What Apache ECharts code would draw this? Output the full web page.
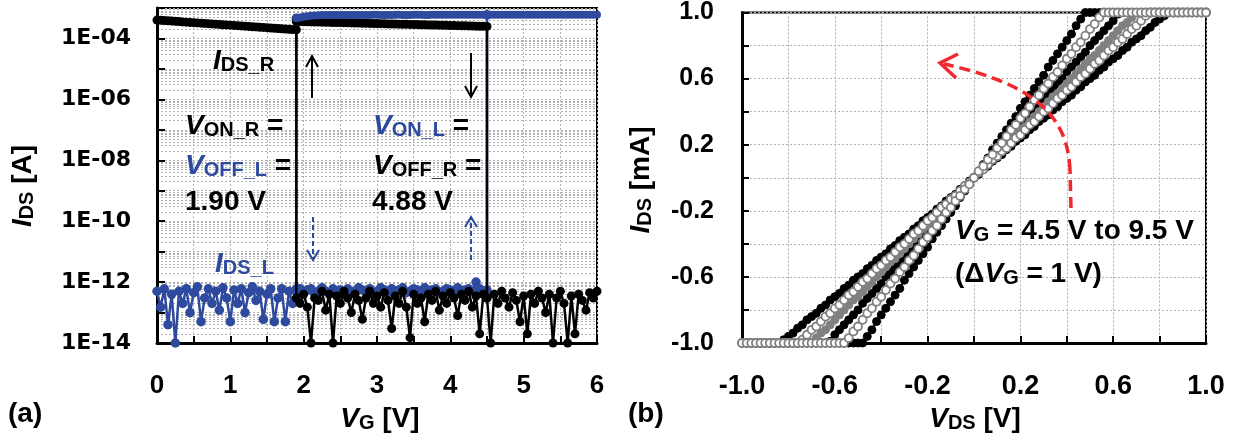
<!DOCTYPE html>
<html><head><meta charset="utf-8">
<script src="https://cdn.jsdelivr.net/npm/echarts@6/dist/echarts.min.js"></script>
<style>html,body{margin:0;padding:0;background:#fff}#c{width:1237px;height:440px}</style>
</head><body><div id="c"></div>
<script>
// ---------- Panel (a): IDS [A] vs VG [V] ----------
const vg = [0,0.05,0.1,0.15,0.2,0.25,0.3,0.35,0.4,0.45,
0.5,0.55,0.6,0.65,0.7,0.75,0.8,0.85,0.9,0.95,
1,1.05,1.1,1.15,1.2,1.25,1.3,1.35,1.4,1.45,
1.5,1.55,1.6,1.65,1.7,1.75,1.8,1.85,1.9,1.95,
2,2.05,2.1,2.15,2.2,2.25,2.3,2.35,2.4,2.45,
2.5,2.55,2.6,2.65,2.7,2.75,2.8,2.85,2.9,2.95,
3,3.05,3.1,3.15,3.2,3.25,3.3,3.35,3.4,3.45,
3.5,3.55,3.6,3.65,3.7,3.75,3.8,3.85,3.9,3.95,
4,4.05,4.1,4.15,4.2,4.25,4.3,4.35,4.4,4.45,
4.5,4.55,4.6,4.65,4.7,4.75,4.8,4.85,4.9,4.95,
5,5.05,5.1,5.15,5.2,5.25,5.3,5.35,5.4,5.45,
5.5,5.55,5.6,5.65,5.7,5.75,5.8,5.85,5.9,5.95,6];

// IDS_L (blue), off-state noise, VG 0 .. 1.90
const blueNoiseA = [5e-13,1.5e-13,6e-13,4e-14,4e-13,1e-14,5e-13,2e-13,6e-13,1e-13,
4.5e-13,7e-13,5e-14,3e-13,6e-13,2e-13,5e-13,1.2e-13,6.5e-13,3e-13,
5e-14,5.5e-13,2e-13,6e-13,1e-13,4.5e-13,7e-13,2.5e-13,5e-13,6e-14,
4e-13,6e-13,5e-14,3e-13,6e-13,5e-14,5e-13,2e-13,6e-13];
// IDS_L (blue), off-state, return sweep VG 1.90 .. 4.50
const blueNoiseB = [5e-13,6e-13,4.5e-13,5.5e-13,6e-13,4e-13,5e-13,6.5e-13,5e-13,4.5e-13,
6e-13,5e-13,5.5e-13,4e-13,6e-13,5e-13,4.5e-13,6.5e-13,5.5e-13,5e-13,
6e-13,4e-13,5e-13,6.5e-13,5.5e-13,4.5e-13,6e-13,5e-13,5.5e-13,6.5e-13,
4.5e-13,5e-13,6e-13,5.5e-13,4e-13,6.5e-13,5e-13,5.5e-13,6e-13,4.5e-13,
5e-13,6e-13,5.5e-13,5e-13,6.5e-13,4.5e-13,5.5e-13,6e-13,5e-13,1e-12,
6e-13,5e-13,5.5e-13];
// IDS_L (blue), on-state, VG 1.90 .. 6
const blueHigh = [4.6e-4,4.9e-4,5.2e-4,5.4e-4,5.6e-4,5.7e-4,5.8e-4,5.85e-4,5.9e-4,5.9e-4,
5.9e-4,5.9e-4,5.92e-4,5.92e-4,5.9e-4,5.9e-4,5.93e-4,5.93e-4,5.9e-4,5.9e-4,
5.92e-4,5.95e-4,5.95e-4,5.92e-4,5.9e-4,5.9e-4,5.93e-4,5.95e-4,5.95e-4,5.93e-4,
5.92e-4,5.92e-4,5.95e-4,5.96e-4,5.95e-4,5.93e-4,5.93e-4,5.95e-4,5.97e-4,5.96e-4,
5.95e-4,5.95e-4,5.96e-4,5.97e-4,5.97e-4,5.96e-4,5.95e-4,5.96e-4,5.98e-4,5.98e-4,
5.97e-4,5.96e-4,5.97e-4,5.98e-4,6e-4,5.99e-4,5.98e-4,5.98e-4,6e-4,6e-4,
5.99e-4,5.98e-4,6e-4,6.01e-4,6.01e-4,6e-4,6e-4,6.01e-4,6.02e-4,6.01e-4,
6e-4,6.01e-4,6.02e-4,6.02e-4,6.01e-4,6.01e-4,6.02e-4,6.03e-4,6.02e-4,6.02e-4,
6.03e-4,6.03e-4,6.02e-4];
// IDS_R (black), on-state, VG 0 .. 1.90
const blackHighA = [4.0e-4,3.93e-4,3.85e-4,3.78e-4,3.71e-4,3.64e-4,3.57e-4,3.5e-4,3.43e-4,3.37e-4,
3.3e-4,3.24e-4,3.18e-4,3.12e-4,3.06e-4,3e-4,2.94e-4,2.89e-4,2.83e-4,2.78e-4,
2.73e-4,2.68e-4,2.63e-4,2.58e-4,2.53e-4,2.48e-4,2.43e-4,2.39e-4,2.34e-4,2.3e-4,
2.26e-4,2.21e-4,2.17e-4,2.13e-4,2.09e-4,2.05e-4,2.01e-4,1.97e-4,1.93e-4];
// IDS_R (black), on-state, return sweep VG 1.90 .. 4.50
const blackHighB = [3.6e-4,3.57e-4,3.55e-4,3.52e-4,3.5e-4,3.47e-4,3.45e-4,3.43e-4,3.4e-4,3.38e-4,
3.35e-4,3.33e-4,3.31e-4,3.28e-4,3.26e-4,3.24e-4,3.21e-4,3.19e-4,3.17e-4,3.15e-4,
3.12e-4,3.1e-4,3.08e-4,3.06e-4,3.04e-4,3.01e-4,2.99e-4,2.97e-4,2.95e-4,2.93e-4,
2.91e-4,2.89e-4,2.87e-4,2.85e-4,2.83e-4,2.81e-4,2.79e-4,2.77e-4,2.75e-4,2.73e-4,
2.71e-4,2.69e-4,2.67e-4,2.65e-4,2.63e-4,2.62e-4,2.6e-4,2.58e-4,2.56e-4,2.54e-4,
2.52e-4,2.51e-4,2.49e-4];
// IDS_R (black), off-state noise, VG 1.90 .. 6
const blackNoise = [3e-13,2e-13,4e-13,1.5e-13,1e-14,3e-13,2.5e-13,5e-13,1.2e-13,4e-13,
1e-14,3.5e-13,2e-13,5e-13,3e-13,1e-13,4e-13,2.5e-13,6e-14,3e-13,
5e-13,2e-13,3.5e-13,1.5e-13,4.5e-13,2.5e-13,3e-14,3.5e-13,2e-13,5e-13,
1.5e-13,1.5e-14,4e-13,2e-13,3e-13,5e-14,4e-13,2.5e-13,5e-13,1.2e-13,
3.5e-13,2e-13,4.5e-13,3e-13,8e-14,4e-13,2.5e-13,5e-13,1.5e-13,3.5e-13,
2e-14,4e-13,3e-13,1e-14,4e-13,2e-13,5e-13,3e-13,1.5e-13,4.5e-13,
2.5e-13,5e-14,3.5e-13,2e-14,4e-13,2e-13,5e-13,3e-13,1e-13,4e-13,
1e-14,3e-13,5e-13,2e-13,1e-14,3.5e-13,2e-14,4e-13,2.5e-13,1.2e-13,
4.5e-13,3e-13,5e-13];
const yLabelsA = ['1E-14','1E-12','1E-10','1E-08','1E-06','1E-04'];

// ---------- Panel (b): IDS [mA] vs VDS [V] ----------
const vds = [-1,-0.98,-0.96,-0.94,-0.92,-0.9,-0.88,-0.86,-0.84,-0.82,
-0.8,-0.78,-0.76,-0.74,-0.72,-0.7,-0.68,-0.66,-0.64,-0.62,
-0.6,-0.58,-0.56,-0.54,-0.52,-0.5,-0.48,-0.46,-0.44,-0.42,
-0.4,-0.38,-0.36,-0.34,-0.32,-0.3,-0.28,-0.26,-0.24,-0.22,
-0.2,-0.18,-0.16,-0.14,-0.12,-0.1,-0.08,-0.06,-0.04,-0.02,
0,0.02,0.04,0.06,0.08,0.1,0.12,0.14,0.16,0.18,
0.2,0.22,0.24,0.26,0.28,0.3,0.32,0.34,0.36,0.38,
0.4,0.42,0.44,0.46,0.48,0.5,0.52,0.54,0.56,0.58,
0.6,0.62,0.64,0.66,0.68,0.7,0.72,0.74,0.76,0.78,
0.8,0.82,0.84,0.86,0.88,0.9,0.92,0.94,0.96,0.98,1];
const idsVG45 = [-1,-1,-1,-1,-1, -1,-1,-1,-1,
-0.98,-0.96,-0.94,-0.91,-0.89,-0.86,-0.84,-0.82,-0.79,-0.77,-0.74,-0.72,-0.7,-0.67,-0.65,-0.62,-0.6,-0.58,-0.55,-0.53,-0.5,-0.48,-0.46,-0.43,-0.41,-0.38,-0.36,-0.34,-0.31,-0.29,-0.26,-0.24,-0.22,-0.19,-0.17,-0.14,-0.12,-0.1,-0.07,-0.05,-0.02,
0,
0.02,0.05,0.07,0.1,0.12,0.14,0.17,0.19,0.22,0.24,0.26,0.29,0.31,0.34,0.36,0.38,0.41,0.43,0.46,0.48,0.5,0.53,0.55,0.58,0.6,0.62,0.65,0.67,0.7,0.72,0.74,0.77,0.79,0.82,0.84,0.86,0.89,0.91,0.94,0.96,0.98,
1,1,1,1,1, 1,1,1,1];
const idsVG55 = [-1,-1,-1,-1,-1, -1,-1,-1,-1,-1, -1,-1,-1,
-0.98,-0.95,-0.92,-0.9,-0.87,-0.84,-0.82,-0.79,-0.77,-0.74,-0.71,-0.69,-0.66,-0.63,-0.61,-0.58,-0.55,-0.53,-0.5,-0.48,-0.45,-0.42,-0.4,-0.37,-0.34,-0.32,-0.29,-0.26,-0.24,-0.21,-0.18,-0.16,-0.13,-0.11,-0.08,-0.05,-0.03,
0,
0.03,0.05,0.08,0.11,0.13,0.16,0.18,0.21,0.24,0.26,0.29,0.32,0.34,0.37,0.4,0.42,0.45,0.48,0.5,0.53,0.55,0.58,0.61,0.63,0.66,0.69,0.71,0.74,0.77,0.79,0.82,0.84,0.87,0.9,0.92,0.95,0.98,
1,1,1,1,1, 1,1,1,1,1, 1,1,1];
const idsVG65 = [-1,-1,-1,-1,-1, -1,-1,-1,-1,-1, -1,-1,-1,-1,-1, -1,
-0.97,-0.94,-0.92,-0.89,-0.86,-0.83,-0.8,-0.77,-0.74,-0.72,-0.69,-0.66,-0.63,-0.6,-0.57,-0.54,-0.51,-0.49,-0.46,-0.43,-0.4,-0.37,-0.34,-0.31,-0.29,-0.26,-0.23,-0.2,-0.17,-0.14,-0.11,-0.09,-0.06,-0.03,
0,
0.03,0.06,0.09,0.11,0.14,0.17,0.2,0.23,0.26,0.29,0.31,0.34,0.37,0.4,0.43,0.46,0.49,0.51,0.54,0.57,0.6,0.63,0.66,0.69,0.72,0.74,0.77,0.8,0.83,0.86,0.89,0.92,0.94,0.97,
1,1,1,1,1, 1,1,1,1,1, 1,1,1,1,1, 1];
const idsVG75 = [-1,-1,-1,-1,-1, -1,-1,-1,-1,-1, -1,-1,-1,-1,-1, -1,-1,-1,-1,
-0.99,-0.95,-0.92,-0.89,-0.86,-0.83,-0.8,-0.76,-0.73,-0.7,-0.67,-0.64,-0.6,-0.57,-0.54,-0.51,-0.48,-0.45,-0.41,-0.38,-0.35,-0.32,-0.29,-0.25,-0.22,-0.19,-0.16,-0.13,-0.1,-0.06,-0.03,
0,
0.03,0.06,0.1,0.13,0.16,0.19,0.22,0.25,0.29,0.32,0.35,0.38,0.41,0.45,0.48,0.51,0.54,0.57,0.6,0.64,0.67,0.7,0.73,0.76,0.8,0.83,0.86,0.89,0.92,0.95,0.99,
1,1,1,1,1, 1,1,1,1,1, 1,1,1,1,1, 1,1,1,1];
const idsVG85 = [-1,-1,-1,-1,-1, -1,-1,-1,-1,-1, -1,-1,-1,-1,-1, -1,-1,-1,-1,-1, -1,-1,-1,
-0.97,-0.93,-0.9,-0.86,-0.82,-0.79,-0.75,-0.72,-0.68,-0.64,-0.61,-0.57,-0.54,-0.5,-0.47,-0.43,-0.39,-0.36,-0.32,-0.29,-0.25,-0.21,-0.18,-0.14,-0.11,-0.07,-0.04,
0,
0.04,0.07,0.11,0.14,0.18,0.21,0.25,0.29,0.32,0.36,0.39,0.43,0.47,0.5,0.54,0.57,0.61,0.64,0.68,0.72,0.75,0.79,0.82,0.86,0.9,0.93,0.97,
1,1,1,1,1, 1,1,1,1,1, 1,1,1,1,1, 1,1,1,1,1, 1,1,1];
const idsVG95 = [-1,-1,-1,-1,-1, -1,-1,-1,-1,-1, -1,-1,-1,-1,-1, -1,-1,-1,-1,-1, -1,-1,-1,-1,-1, -1,-1,
-0.96,-0.92,-0.87,-0.83,-0.79,-0.75,-0.71,-0.67,-0.62,-0.58,-0.54,-0.5,-0.46,-0.42,-0.37,-0.33,-0.29,-0.25,-0.21,-0.17,-0.12,-0.08,-0.04,
0,
0.04,0.08,0.12,0.17,0.21,0.25,0.29,0.33,0.37,0.42,0.46,0.5,0.54,0.58,0.62,0.67,0.71,0.75,0.79,0.83,0.87,0.92,0.96,
1,1,1,1,1, 1,1,1,1,1, 1,1,1,1,1, 1,1,1,1,1, 1,1,1,1,1, 1,1];
const xLabelsB = ['-1.0','-0.6','-0.2','0.2','0.6','1.0'];

// ---------- build ----------
const F = '"Liberation Sans", Arial, Helvetica, sans-serif';
const BLUE = '#2e4a9e', BLACK = '#000000', GRAY = '#808080', RED = '#f0282d';
const GRIDC = '#b2b2b2';
const iOn = vg.indexOf(1.9), iOff = vg.indexOf(4.5);
const lg = v => Math.log10(v);   // decade axis for panel (a)
const pts = (xs, ys) => ys.map((y, i) => [xs[i], y]);
const ptsLog = (xs, ys) => ys.map((y, i) => [xs[i], lg(y)]);
const vgHi = vg.slice(iOn);             // 1.90 .. 6
const vgMid = vg.slice(iOn, iOff + 1);  // 1.90 .. 4.50
const vgLo = vg.slice(0, iOn + 1);      // 0 .. 1.90

const blackA = ptsLog(vgLo, blackHighA).concat(ptsLog(vgHi, blackNoise));
const blackB = ptsLog(vgMid, blackHighB).concat([[vg[iOff], lg(blackNoise[iOff - iOn])]]);
const blueA = ptsLog(vgLo, blueNoiseA).concat([[vg[iOn], lg(blueHigh[0])]]);
const blueB = ptsLog(vgMid, blueNoiseB).concat([[vg[iOff], lg(blueHigh[iOff - iOn])]]);
const blueH = ptsLog(vgHi, blueHigh);

// minor log grid lines at 2..9 x 10^n (axis decoration)
const logGrid = [];
for (let e = -14; e <= -4; e++) for (let k = 2; k <= 9; k++) logGrid.push({yAxis: lg(k) + e});

// each curve = connecting line + filled circle markers
const curve = (name, data, ax, fill, stroke, lw, bw, z, size) => [
  {name, type: 'line', xAxisIndex: ax, yAxisIndex: ax, data, z, symbol: 'none', showSymbol: false,
   lineStyle: {color: stroke, width: lw}, emphasis: {disabled: true}, animation: false, clip: false, silent: true},
  {name: name + ' pts', type: 'scatter', xAxisIndex: ax, yAxisIndex: ax, data, z,
   symbol: 'circle', symbolSize: size,
   itemStyle: {color: fill, borderColor: stroke, borderWidth: bw, opacity: 1},
   emphasis: {disabled: true}, animation: false, clip: false, silent: true, large: false}
];

const axisLineStyle = {show: true, onZero: false, lineStyle: {color: '#000', width: 3}};
const gridLine = {show: true, lineStyle: {color: GRIDC, type: [2, 2], width: 1}};

const rich = {
  vk: {fontFamily: F, fontSize: 28, fontWeight: 'bold', fontStyle: 'italic', lineHeight: 30, verticalAlign: 'bottom', fill: BLACK},
  sk: {fontFamily: F, fontSize: 20, fontWeight: 'bold', lineHeight: 9, verticalAlign: 'bottom', fill: BLACK},
  tk: {fontFamily: F, fontSize: 28, fontWeight: 'bold', lineHeight: 30, verticalAlign: 'bottom', fill: BLACK},
  vb: {fontFamily: F, fontSize: 28, fontWeight: 'bold', fontStyle: 'italic', lineHeight: 30, verticalAlign: 'bottom', fill: BLUE},
  sb: {fontFamily: F, fontSize: 20, fontWeight: 'bold', lineHeight: 9, verticalAlign: 'bottom', fill: BLUE}
};
const T = (x, y, text) => ({
  type: 'text', x, y, z: 100, silent: true,
  style: {text, rich, align: 'left', verticalAlign: 'top', font: 'bold 28px ' + F, fill: '#000'}
});
const TC = (x, y, text, rot) => ({
  type: 'text', x, y, z: 100, silent: true, rotation: rot || 0,
  style: {text, rich, align: 'center', verticalAlign: 'middle', font: 'bold 28px ' + F, fill: '#000'}
});
const L = (pts2, color, dash, w) => ({
  type: 'polyline', z: 100, silent: true, shape: {points: pts2},
  style: {stroke: color, lineWidth: w || 2, fill: null, lineDash: dash || null}
});
const fmtB = v => { const s = v.toFixed(1) === '-0.0' ? '0.0' : v.toFixed(1); return xLabelsB.indexOf(s) >= 0 ? s : ''; };

const series = [
  {name: 'loggrid', type: 'line', xAxisIndex: 0, yAxisIndex: 0, data: [[0, -3]], symbol: 'none', showSymbol: false,
   lineStyle: {opacity: 0}, z: 0, silent: true, animation: false,
   markLine: {silent: true, z: 0, zlevel: 0, symbol: ['none', 'none'], label: {show: false}, animation: false,
     emphasis: {disabled: true},
     lineStyle: {color: GRIDC, type: [2, 2], width: 1}, data: logGrid}}
].concat(
  curve('IDS_L return', blueB, 0, BLUE, BLUE, 2.5, 0, 3, 9.5),
  curve('IDS_L', blueA, 0, BLUE, BLUE, 2.5, 0, 3, 9.5),
  curve('IDS_R return', blackB, 0, BLACK, BLACK, 2.5, 0, 4, 9),
  curve('IDS_R', blackA, 0, BLACK, BLACK, 2.5, 0, 4, 9),
  curve('IDS_L on', blueH, 0, BLUE, BLUE, 2.5, 0, 6, 8),
  curve('VG 4.5 V', pts(vds, idsVG45), 1, BLACK, BLACK, 2, 1, 3, 8),
  curve('VG 7.5 V', pts(vds, idsVG75), 1, BLACK, BLACK, 2, 1, 3, 8),
  curve('VG 9.5 V', pts(vds, idsVG95), 1, BLACK, BLACK, 2, 1, 3, 8),
  curve('VG 6.5 V', pts(vds, idsVG65), 1, GRAY, GRAY, 2, 1, 4, 8),
  curve('VG 5.5 V', pts(vds, idsVG55), 1, '#ffffff', GRAY, 2, 1.8, 5, 8),
  curve('VG 8.5 V', pts(vds, idsVG85), 1, '#ffffff', GRAY, 2, 1.8, 6, 8)
);

const option = {
  backgroundColor: '#fff',
  animation: false,
  grid: [
    {left: 157, right: 640, top: 8, bottom: 97, show: true, borderColor: '#000', borderWidth: 2, backgroundColor: 'transparent', containLabel: false},
    {left: 742, right: 31, top: 9, bottom: 97, show: true, borderColor: '#000', borderWidth: 2, backgroundColor: 'transparent', containLabel: false}
  ],
  xAxis: [
    {type: 'value', gridIndex: 0, min: 0, max: 6, interval: 0.5,
     axisLine: axisLineStyle,
     axisTick: {show: true, inside: true, length: 7, lineStyle: {color: '#000', width: 2}},
     axisLabel: {show: true, margin: 30, color: '#000', fontFamily: F, fontWeight: 'bold', fontSize: 26, hideOverlap: false, showMinLabel: true, showMaxLabel: true,
       formatter: v => (Math.abs(v - Math.round(v)) < 1e-9 ? String(Math.round(v)) : '')},
     splitLine: gridLine},
    {type: 'value', gridIndex: 1, min: -1, max: 1, interval: 0.2,
     axisLine: axisLineStyle,
     axisTick: {show: true, inside: true, length: 7, lineStyle: {color: '#000', width: 2}},
     axisLabel: {show: true, margin: 30, color: '#000', fontFamily: F, fontWeight: 'bold', fontSize: 27, hideOverlap: false, showMinLabel: true, showMaxLabel: true, formatter: fmtB},
     splitLine: gridLine}
  ],
  yAxis: [
    {type: 'value', gridIndex: 0, min: -14, max: -3, interval: 1,
     axisLine: axisLineStyle,
     axisTick: {show: true, inside: true, length: 8, lineStyle: {color: '#000', width: 2}},
     axisLabel: {show: true, margin: 26, color: '#000', fontFamily: '"DejaVu Sans", sans-serif', fontWeight: 'bold', fontSize: 22, hideOverlap: false, showMinLabel: true, showMaxLabel: true,
       formatter: v => { const s = '1E-' + String(-Math.round(v)).padStart(2, '0'); return yLabelsA.indexOf(s) >= 0 ? s : ''; }},
     splitLine: gridLine},
    {type: 'value', gridIndex: 1, min: -1, max: 1, interval: 0.2,
     axisLine: axisLineStyle,
     axisTick: {show: true, inside: true, length: 7, lineStyle: {color: '#000', width: 2}},
     axisLabel: {show: true, margin: 28, color: '#000', fontFamily: F, fontWeight: 'bold', fontSize: 25, hideOverlap: false, showMinLabel: true, showMaxLabel: true, formatter: fmtB},
     splitLine: gridLine}
  ],
  series,
  graphic: [
    T(213, 45, '{vk|I}{sk|DS_R}'),
    T(185, 110, '{vk|V}{sk|ON_R}{tk| =}'),
    T(185, 150, '{vb|V}{sb|OFF_L}{tk| =}'),
    T(185, 186, '{tk|1.90 V}'),
    T(373, 110, '{vb|V}{sb|ON_L}{tk| =}'),
    T(373, 150, '{vk|V}{sk|OFF_R}{tk| =}'),
    T(372, 186, '{tk|4.88 V}'),
    T(215, 248, '{vb|I}{sb|DS_L}'),
    T(955, 215, '{vk|V}{sk|G}{tk| = 4.5 V to 9.5 V}'),
    T(955, 258, '{tk|(Δ}{vk|V}{sk|G}{tk| = 1 V)}'),
    T(8, 398, '{tk|(a)}'),
    T(628, 398, '{tk|(b)}'),
    TC(380, 418, '{vk|V}{sk|G}{tk| [V]}'),
    TC(975, 418, '{vk|V}{sk|DS}{tk| [V]}'),
    TC(22, 186, '{vk|I}{sk|DS}{tk| [A]}', Math.PI / 2),
    TC(640, 180, '{vk|I}{sk|DS}{tk| [mA]}', Math.PI / 2),
    // arrows panel (a)
    L([[312, 98], [312, 57]], BLACK), L([[306, 67], [312, 56], [318, 67]], BLACK),
    L([[471, 53], [471, 96]], BLACK), L([[465, 86], [471, 97], [477, 86]], BLACK),
    L([[313, 217], [313, 258]], BLUE, [5, 3]), L([[307, 250], [313, 260], [319, 250]], BLUE),
    L([[471, 260], [471, 219]], BLUE, [5, 3]), L([[465, 227], [471, 217], [477, 227]], BLUE),
    // red arc arrow panel (b)
    L([[1071, 208], [1070, 170]], RED, [11, 6], 3.5),
    {type: 'bezierCurve', z: 100, silent: true,
     shape: {x1: 1070, y1: 170, cpx1: 1068, cpy1: 120, cpx2: 1040, cpy2: 85, x2: 944, y2: 64},
     style: {stroke: RED, lineWidth: 3.5, fill: null, lineDash: [11, 6]}},
    L([[958, 54], [940, 63], [956, 78]], RED, null, 3.5)
  ]
};
const chart = echarts.init(document.getElementById('c'), null, {renderer: 'canvas'});
chart.setOption(option);
</script></body></html>
